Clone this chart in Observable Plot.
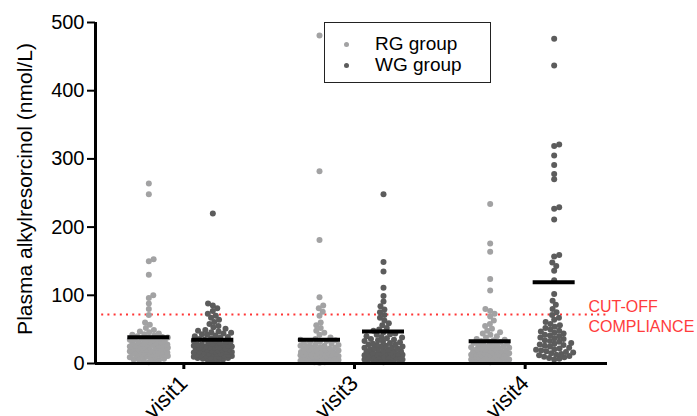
<!DOCTYPE html>
<html>
<head>
<meta charset="utf-8">
<script src="https://cdn.jsdelivr.net/npm/d3@7"></script>
<script src="https://cdn.jsdelivr.net/npm/@observablehq/plot@0.6"></script>
<style>
  body { margin: 0; background: #fff; font-family: "Liberation Sans", Arial, sans-serif; }
  #wrap { position: relative; width: 697px; height: 416px; overflow: hidden; }
  #legend { position: absolute; left: 324px; top: 22px; width: 167px; height: 61px; box-sizing: border-box;
            border: 1.5px solid #222; background: #fff; font-size: 19px; color: #000; }
  #legend .item { position: absolute; left: 0; height: 20px; line-height: 20px; white-space: nowrap; }
  #legend .sw { position: absolute; left: 19px; top: 8px; width: 5px; height: 5px; border-radius: 50%; }
  #legend .lab { position: absolute; left: 50px; top: 0; }
</style>
</head>
<body>
<div id="wrap"><div id="chart"></div><div id="legend"></div></div>
<script>
// ---- data ----
const visits = ["visit1", "visit3", "visit4"];
const groups = ["RG group", "WG group"];
const groupColors = ["#a2a2a3", "#5c5c5c"];

const rgVisit1 = [264, 248, 153, 150, 130, 100, 96, 88, 80, 71, 60, 57, 52, 49, 47, 46, 44, 43, 42, 41, 40, 39, 38, 38, 37, 36, 35, 35, 34, 33, 33, 32, 31, 31, 30, 30, 29, 28, 28, 27, 27, 26, 26, 25, 25, 24, 24, 23, 23, 22, 22, 21, 21, 20, 20, 19, 19, 18, 18, 17, 17, 16, 16, 15, 15, 14, 14, 13, 13, 12, 12, 11, 11, 10, 9, 9, 8, 7, 6, 6, 5, 4, 3, 2];
const wgVisit1 = [220, 88, 85, 81, 77, 73, 70, 67, 64, 61, 58, 55, 53, 51, 49, 48, 47, 46, 45, 44, 43, 42, 41, 40, 39, 38, 37, 36, 35, 34, 33, 32, 31, 30, 30, 29, 28, 28, 27, 27, 26, 26, 25, 25, 24, 24, 23, 23, 22, 22, 21, 21, 20, 20, 19, 19, 18, 18, 17, 17, 16, 16, 15, 15, 14, 14, 13, 13, 12, 12, 11, 11, 10, 10, 9, 9, 8, 8, 7, 6, 5, 4, 3];
const rgVisit3 = [481, 282, 181, 97, 85, 81, 76, 70, 60, 56, 52, 48, 45, 42, 38, 36, 35, 34, 33, 32, 31, 30, 29, 28, 27, 26, 26, 25, 24, 24, 23, 22, 22, 21, 20, 20, 19, 19, 18, 18, 17, 17, 16, 16, 15, 15, 14, 14, 13, 13, 12, 12, 12, 11, 11, 11, 10, 10, 10, 9, 9, 9, 8, 8, 8, 7, 7, 7, 6, 6, 6, 5, 5, 5, 4, 4, 4, 3, 3, 2, 2, 1];
const wgVisit3 = [248, 149, 135, 111, 99, 91, 84, 79, 75, 71, 67, 63, 59, 56, 52, 50, 48, 46, 44, 43, 42, 40, 39, 38, 37, 36, 35, 34, 33, 32, 31, 30, 29, 28, 28, 27, 26, 25, 25, 24, 23, 22, 22, 21, 20, 20, 19, 18, 18, 17, 16, 16, 15, 15, 14, 14, 13, 13, 12, 12, 11, 11, 10, 10, 9, 9, 9, 8, 8, 8, 7, 7, 6, 6, 5, 5, 4, 4, 3, 3, 2];
const rgVisit4 = [234, 176, 164, 124, 107, 80, 77, 73, 69, 63, 58, 55, 51, 48, 46, 44, 42, 40, 38, 36, 35, 34, 33, 32, 31, 30, 29, 28, 27, 27, 26, 25, 25, 24, 23, 23, 22, 21, 21, 20, 19, 19, 18, 18, 17, 17, 16, 16, 15, 15, 14, 14, 13, 13, 12, 12, 11, 11, 10, 10, 9, 9, 8, 8, 7, 7, 6, 6, 5, 5, 4, 4, 3, 3, 2];
const wgVisit4 = [476, 437, 321, 319, 305, 291, 278, 270, 229, 227, 211, 159, 157, 148, 143, 136, 122, 102, 92, 86, 80, 75, 71, 67, 64, 61, 58, 56, 54, 52, 50, 48, 47, 45, 44, 42, 41, 40, 38, 37, 36, 34, 33, 32, 30, 29, 28, 27, 26, 25, 23, 22, 21, 20, 19, 18, 17, 16, 15, 14, 13, 12, 11, 10, 9, 8, 7, 6];

const rgMeans = [38.6, 35, 32.7];
const wgMeans = [34.7, 47, 119];
const cutoff = 72;
const yTicks = [0, 100, 200, 300, 400, 500];
const yTitle = "Plasma alkylresorcinol (nmol/L)";
const cutoffLabel = "CUT-OFF\nCOMPLIANCE";

// ---- layout ----
const W = 697, H = 416, mL = 95, mR = 90, mT = 22, mB = 53;
const pxPerX = (W - mL - mR) / 3;
const pxPerY = (H - mT - mB) / 500;
const groupOffset = 32 / pxPerX;
const barHalf = 21 / pxPerX;
const D = 5.2;        // preferred spacing (px)
const maxHalf = 19;   // max half-width of a swarm (px); beyond it points overlap

function swarm(values) {
  const pts = values.map(v => ({v, py: v * pxPerY})).sort((a, b) => a.py - b.py);
  const placed = [];
  for (const p of pts) {
    const near = placed.filter(q => Math.abs(q.py - p.py) < D);
    const cands = [0];
    for (const q of near) {
      const dy = Math.abs(q.py - p.py);
      const dx = Math.sqrt(D * D - dy * dy);
      cands.push(q.px + dx, q.px - dx);
    }
    cands.sort((a, b) => Math.abs(a) - Math.abs(b));
    let chosen = null;
    for (const c of cands) {
      if (Math.abs(c) > maxHalf) continue;
      if (near.every(q => (q.px - c) ** 2 + (q.py - p.py) ** 2 >= D * D - 1e-6)) { chosen = c; break; }
    }
    if (chosen === null) {
      let best = -Infinity;
      for (let c = -maxHalf; c <= maxHalf + 1e-9; c += 0.5) {
        let m = Infinity;
        for (const q of near) m = Math.min(m, (q.px - c) ** 2 + (q.py - p.py) ** 2);
        const score = m - 0.001 * Math.abs(c);
        if (score > best) { best = score; chosen = c; }
      }
    }
    p.px = chosen;
    placed.push(p);
  }
  return placed;
}

const series = [
  [rgVisit1, wgVisit1],
  [rgVisit3, wgVisit3],
  [rgVisit4, wgVisit4]
];
const dots = [];
series.forEach((pair, vi) => {
  pair.forEach((vals, gi) => {
    const center = vi + 1 + (gi === 0 ? -groupOffset : groupOffset);
    for (const p of swarm(vals)) {
      dots.push({visit: visits[vi], group: groups[gi], value: p.v, x: center + p.px / pxPerX});
    }
  });
});
const meanRows = [];
visits.forEach((v, vi) => {
  meanRows.push({visit: v, group: groups[0], mean: rgMeans[vi], x: vi + 1 - groupOffset});
  meanRows.push({visit: v, group: groups[1], mean: wgMeans[vi], x: vi + 1 + groupOffset});
});

const plot = Plot.plot({
  width: W, height: H,
  marginLeft: mL, marginRight: mR, marginTop: mT, marginBottom: mB,
  style: {fontFamily: "'Liberation Sans', Arial, sans-serif", background: "#fff", color: "#000", overflow: "visible"},
  x: {domain: [0.5, 3.5]},
  y: {domain: [0, 500]},
  color: {domain: groups, range: groupColors},
  marks: [
    Plot.ruleY([cutoff], {stroke: "#ff3535", strokeWidth: 2, strokeDasharray: "2,4.2"}),
    Plot.dot(dots, {x: "x", y: "value", fill: "group", r: 3}),
    Plot.ruleY(meanRows, {y: "mean", x1: d => d.x - barHalf, x2: d => d.x + barHalf, stroke: "#000", strokeWidth: 4}),
    Plot.axisY({ticks: yTicks, tickSize: 8, tickPadding: 3, strokeWidth: 2, fontSize: 20, label: null}),
    Plot.axisX({ticks: [1, 2, 3], tickFormat: d => visits[d - 1], tickSize: 6, strokeWidth: 3,
                tickRotate: -45, tickPadding: 10, dx: 3, fontSize: 22, label: null}),
    Plot.ruleX([0.5], {stroke: "#000", strokeWidth: 3}),
    Plot.ruleY([0], {stroke: "#000", strokeWidth: 3}),
    Plot.text([yTitle], {frameAnchor: "left", textAnchor: "middle", rotate: -90, dx: -70, dy: -4, fontSize: 21, fill: "#000"}),
    Plot.text([cutoffLabel], {frameAnchor: "right", y: () => cutoff, textAnchor: "start", lineAnchor: "middle",
                             lineHeight: 1.3, dx: -19, dy: 1, fontSize: 16, fill: "#ff3c3c"})
  ]
});
document.getElementById("chart").appendChild(plot);

// legend (inside plot area, as in the reference)
const legend = document.getElementById("legend");
groups.forEach((g, i) => {
  const item = document.createElement("div");
  item.className = "item";
  item.style.top = (11 + i * 21) + "px";
  item.innerHTML = `<span class="sw" style="background:${groupColors[i]}"></span><span class="lab">${g}</span>`;
  legend.appendChild(item);
});
</script>
</body>
</html>
